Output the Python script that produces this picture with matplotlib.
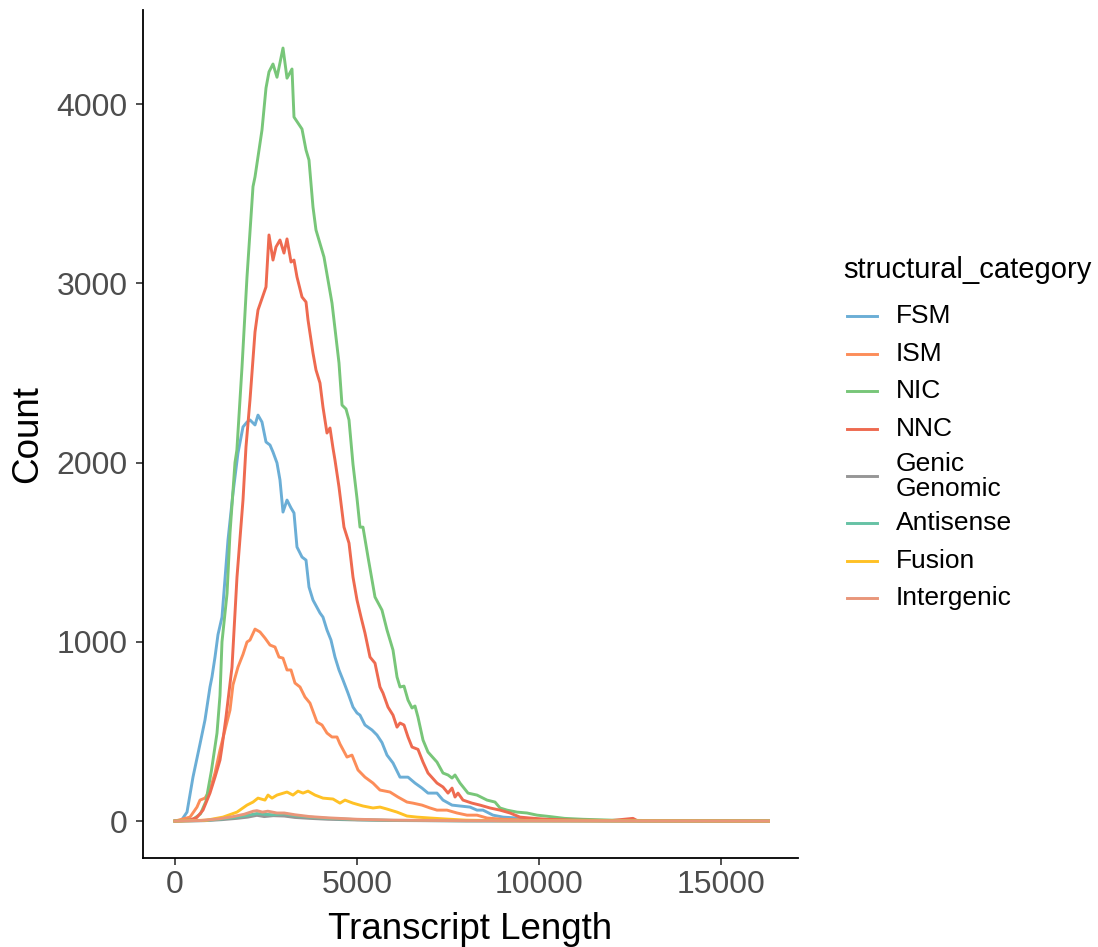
import matplotlib
matplotlib.use("Agg")
import matplotlib.pyplot as plt
from matplotlib.lines import Line2D

plt.rcParams['font.family'] = ['Liberation Sans', 'DejaVu Sans']

categories = ["FSM", "ISM", "NIC", "NNC", "Genic\nGenomic", "Antisense", "Fusion", "Intergenic"]
colors = ["#6BAED6", "#FC8D59", "#78C679", "#EE6A50", "#969696", "#66C2A5", "#FFC125", "#E9967A"]

fsm_x = [0, 180, 330, 494, 687, 824, 961, 1016, 1099, 1181, 1291, 1373, 1456, 1593, 1730, 1868, 1978, 2060, 2198, 2280, 2390, 2500, 2610, 2692, 2802, 2884, 2967, 3077, 3187, 3269, 3351, 3489, 3599, 3681, 3791, 3983, 4065, 4175, 4285, 4395, 4505, 4615, 4752, 4890, 5000, 5082, 5219, 5412, 5549, 5686, 5824, 5989, 6181, 6401, 6593, 6785, 6950, 7197, 7362, 7610, 7829, 8104, 8296, 8461, 8735, 9010, 9395, 9800, 10500, 12000, 16300]
fsm_y = [0, 5, 50, 245, 430, 564, 748, 804, 915, 1040, 1138, 1350, 1568, 1830, 2053, 2199, 2226, 2238, 2210, 2265, 2226, 2115, 2098, 2059, 1998, 1903, 1724, 1791, 1747, 1719, 1529, 1473, 1456, 1306, 1233, 1161, 1138, 1066, 1010, 915, 843, 787, 714, 636, 603, 591, 536, 508, 480, 438, 368, 324, 245, 245, 212, 184, 156, 156, 117, 89, 84, 78, 61, 61, 33, 22, 17, 10, 5, 2, 0]

ism_x = [0, 412, 604, 687, 824, 961, 1099, 1236, 1373, 1511, 1593, 1730, 1868, 1978, 2060, 2198, 2335, 2472, 2610, 2747, 2857, 2967, 3077, 3187, 3296, 3434, 3571, 3708, 3901, 4038, 4175, 4313, 4450, 4532, 4725, 4862, 5027, 5219, 5439, 5631, 5906, 6126, 6373, 6538, 6785, 7005, 7197, 7472, 7747, 8021, 8296, 8571, 9000, 10000, 12000, 16300]
ism_y = [0, 22, 78, 117, 128, 173, 268, 396, 508, 619, 760, 859, 930, 999, 1010, 1071, 1055, 1021, 982, 971, 915, 909, 843, 843, 770, 748, 692, 658, 552, 536, 491, 469, 469, 430, 357, 368, 285, 245, 212, 173, 162, 134, 106, 100, 89, 73, 61, 61, 45, 33, 33, 17, 10, 4, 1, 0]

nic_x = [0, 300, 500, 700, 850, 1000, 1154, 1236, 1291, 1430, 1511, 1648, 1700, 1840, 1978, 2143, 2198, 2390, 2500, 2582, 2692, 2802, 2967, 3077, 3214, 3269, 3489, 3599, 3681, 3791, 3873, 4093, 4313, 4505, 4588, 4698, 4780, 4890, 5000, 5082, 5164, 5302, 5494, 5686, 5824, 5989, 6099, 6181, 6291, 6401, 6511, 6593, 6675, 6813, 6950, 7197, 7362, 7500, 7610, 7692, 7829, 8049, 8296, 8571, 8791, 8928, 9120, 9395, 9670, 9945, 10300, 10700, 11200, 12000, 13000, 14000, 15000, 16300]
nic_y = [0, 3, 10, 40, 110, 280, 491, 700, 1000, 1270, 1607, 2000, 2070, 2530, 3036, 3540, 3594, 3856, 4090, 4180, 4224, 4150, 4313, 4145, 4196, 3928, 3861, 3744, 3688, 3426, 3298, 3147, 2890, 2556, 2321, 2299, 2238, 1990, 1800, 1640, 1640, 1473, 1250, 1177, 1066, 954, 804, 748, 753, 675, 631, 642, 580, 452, 385, 329, 268, 257, 240, 257, 212, 156, 145, 117, 106, 73, 61, 50, 45, 33, 25, 15, 10, 5, 3, 2, 1, 0]

nnc_x = [0, 400, 600, 769, 961, 1099, 1236, 1291, 1401, 1566, 1703, 1868, 1950, 2060, 2198, 2280, 2500, 2582, 2692, 2774, 2884, 2994, 3077, 3187, 3269, 3351, 3489, 3599, 3654, 3791, 3873, 3983, 4065, 4175, 4258, 4340, 4395, 4505, 4642, 4780, 4890, 5000, 5110, 5219, 5357, 5494, 5631, 5714, 5851, 5989, 6099, 6181, 6291, 6401, 6511, 6675, 6813, 6950, 7197, 7362, 7500, 7610, 7692, 7774, 7911, 8159, 8379, 8653, 8928, 9202, 9477, 9750, 10200, 11000, 12000, 12580, 12700, 14000, 16300]
nnc_y = [0, 5, 20, 61, 156, 245, 340, 413, 580, 859, 1361, 1791, 2087, 2349, 2729, 2851, 2980, 3270, 3130, 3203, 3242, 3169, 3248, 3119, 3130, 3036, 2924, 2896, 2796, 2611, 2517, 2444, 2310, 2165, 2193, 2081, 2014, 1864, 1640, 1551, 1361, 1233, 1138, 1049, 915, 881, 748, 714, 636, 591, 524, 547, 536, 469, 413, 400, 329, 268, 212, 190, 156, 184, 134, 156, 117, 100, 89, 73, 61, 45, 22, 17, 10, 5, 3, 15, 2, 1, 0]

genic_x = [0, 800, 1300, 1700, 2000, 2250, 2450, 2700, 3000, 3300, 3700, 4200, 5000, 6000, 8000, 16300]
genic_y = [0, 2, 8, 15, 22, 32, 25, 30, 28, 20, 15, 10, 6, 3, 1, 0]

anti_x = [0, 800, 1300, 1700, 2000, 2250, 2450, 2700, 3000, 3300, 3700, 4200, 5000, 6000, 8000, 16300]
anti_y = [0, 3, 12, 22, 32, 42, 38, 35, 40, 30, 22, 15, 8, 4, 1, 0]

fusion_x = [0, 870, 1318, 1703, 1978, 2143, 2280, 2472, 2555, 2665, 2802, 3077, 3241, 3379, 3516, 3654, 3846, 4065, 4340, 4532, 4670, 4890, 5164, 5439, 5631, 5824, 6099, 6373, 6648, 7005, 7472, 8000, 9000, 16300]
fusion_y = [0, 5, 22, 50, 89, 106, 128, 117, 145, 128, 145, 162, 145, 167, 156, 167, 145, 128, 123, 100, 117, 100, 84, 73, 78, 67, 50, 28, 22, 17, 11, 5, 2, 0]

inter_x = [0, 700, 1200, 1600, 1900, 2150, 2250, 2400, 2550, 2800, 3000, 3300, 3700, 4200, 5000, 6000, 8000, 16300]
inter_y = [0, 3, 12, 25, 38, 55, 58, 50, 55, 45, 45, 35, 25, 18, 10, 5, 2, 0]

series = [(fsm_x, fsm_y), (ism_x, ism_y), (nic_x, nic_y), (nnc_x, nnc_y),
          (genic_x, genic_y), (anti_x, anti_y), (fusion_x, fusion_y), (inter_x, inter_y)]

xticks = [0, 5000, 10000, 15000]
yticks = [0, 1000, 2000, 3000, 4000]

W, H = 1098, 947
fig = plt.figure(figsize=(W / 100, H / 100), dpi=100)
ax = fig.add_axes([0.1302, 0.0940, 0.7268 - 0.1302, 0.9894 - 0.0940])

for (xs, ys), c in zip(series, colors):
    ax.plot(xs, ys, color=c, lw=2.1, solid_joinstyle='round')

ax.set_xlim(-880, 17115)
ax.set_ylim(-206, 4525)
ax.set_xticks(xticks)
ax.set_yticks(yticks)
ax.set_xticklabels([str(v) for v in xticks])
ax.set_yticklabels([str(v) for v in yticks])
for s in ['top', 'right']:
    ax.spines[s].set_visible(False)
for s in ['left', 'bottom']:
    ax.spines[s].set_linewidth(1.3)
    ax.spines[s].set_color('black')
ax.tick_params(axis='both', length=5, width=1.2, color='#333333', labelsize=23, labelcolor='#4D4D4D')
ax.tick_params(axis='y', pad=6)
ax.tick_params(axis='x', pad=4)
ax.set_xlabel("Transcript Length", fontsize=26.5, labelpad=8)
ax.set_ylabel("Count", fontsize=26.5, labelpad=8)

# legend drawn in figure pixel layout (ggplot-style guide)
def fx(px):
    return px / W

def fy(py):
    return 1 - py / H

fig.text(fx(843), fy(270), "structural_category", fontsize=21, ha='left', va='center')
y = 316.0
step = 37.6
for lab, c in zip(categories, colors):
    n = lab.count("\n") + 1
    yc = y + (n - 1) * 10
    fig.add_artist(Line2D([fx(847), fx(877)], [fy(yc), fy(yc)], color=c, lw=2.1,
                          transform=fig.transFigure))
    fig.text(fx(896), fy(yc), lab, fontsize=19, ha='left', va='center', linespacing=1.06)
    y += step + (n - 1) * 19

fig.savefig("out.png", dpi=100)
